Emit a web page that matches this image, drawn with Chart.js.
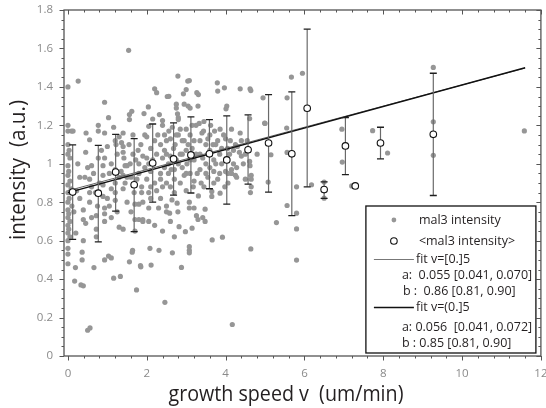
<!DOCTYPE html>
<html>
<head>
<meta charset="utf-8">
<script src="https://cdn.jsdelivr.net/npm/chart.js@4.4.1/dist/chart.umd.min.js"></script>
<style>
  html, body { margin: 0; padding: 0; background: #fff; overflow: hidden; }
  #wrap { width: 546px; height: 408px; position: relative; }
</style>
</head>
<body>
<div id="wrap"><canvas id="chart"></canvas></div>
<script>
// tick labels
const xTicks = [0, 2, 4, 6, 8, 10, 12];
const yTicks = [0, 0.2, 0.4, 0.6, 0.8, 1, 1.2, 1.4, 1.6, 1.8];

// single measurements [growth speed, intensity]
const mal3Points = [
  [0,1.40],[0,1.20],[0,1.17],[0.09,1.17],[0,1.10],[0.03,1.07],[0,1.05],[0.05,1.03],[0,0.99],[0.02,0.96],
  [0,0.94],[0.05,0.91],[0,0.89],[0.08,0.87],[0,0.85],[0.03,0.82],[0,0.80],[0.1,0.78],[0,0.76],[0.02,0.74],
  [0,0.72],[0.05,0.70],[0,0.68],[0.02,0.66],[0,0.64],[0.05,0.62],[0,0.60],[0,0.56],[0,0.53],[0,0.48],
  [0.17,0.39],[0.19,0.46],[0.26,1.43],
  [0.13,1.17],[0.22,0.86],[0.15,0.75],[0.2,0.64],[0.25,1.0],[0.3,0.93],[0.33,0.37],[0.39,0.365],[0.36,0.54],
  [0.36,0.50],[0.39,0.76],[0.39,0.71],[0.39,0.60],[0.43,0.93],[0.46,1.16],[0.45,1.06],[0.5,0.134],[0.56,0.146],
  [0.55,1.125],[0.55,0.92],[0.55,0.85],[0.55,0.80],[0.5,0.98],[0.6,0.99],[0.6,0.88],
  [0.65,0.95],[0.66,0.46],[0.72,0.73],[0.72,0.66],[0.72,0.62],[0.77,1.20],[0.77,1.17],[0.77,1.03],[0.8,0.90],
  [0.85,1.07],[0.89,0.99],[0.89,0.94],[0.89,0.89],[0.89,0.83],[0.93,1.32],[0.93,1.16],[0.93,1.03],[0.93,0.77],
  [0.93,0.74],[0.93,0.70],[0.93,0.50],[1.03,1.24],[1.03,0.52],[1.0,1.09],[1.05,0.78],[1.05,0.95],[1.1,0.51],
  [1.1,0.87],[1.1,1.0],
  [1.16,1.19],[1.16,0.405],[1.2,1.12],[1.22,1.10],[1.2,0.90],[1.2,0.85],[1.2,0.81],[1.25,1.05],[1.3,1.14],
  [1.3,0.67],[1.33,0.414],[1.36,1.11],[1.35,0.96],[1.4,1.16],[1.4,1.09],[1.4,1.06],[1.42,1.03],[1.4,0.94],
  [1.4,0.87],[1.4,0.66],[1.45,0.99],[1.5,0.99],[1.5,0.93],[1.5,0.80],[1.54,1.59],[1.56,1.256],[1.56,1.23],
  [1.56,0.49],[1.58,1.0],
  [1.62,1.273],[1.63,0.54],[1.65,1.15],[1.64,0.55],[1.65,1.05],[1.7,0.79],[1.7,0.71],[1.7,0.65],[1.72,1.02],
  [1.74,0.344],[1.78,1.07],[1.8,1.0],[1.8,0.95],[1.8,0.79],[1.8,0.71],[1.85,0.464],[1.84,0.47],[1.87,0.88],
  [1.87,0.85],[1.9,0.71],[1.9,0.70],[1.9,1.04],[1.93,1.261],[1.95,1.15],[2.0,1.14],[2.0,1.03],[2.0,0.92],
  [2.04,1.296],[2.05,1.195],[2.05,1.0],[2.05,0.85],[2.05,0.77],[2.05,0.70],[2.08,0.56],
  [2.1,0.88],[2.1,0.82],[2.11,0.473],[2.1,1.08],[2.15,1.233],[2.2,1.39],[2.2,1.12],[2.25,1.37],[2.25,1.05],
  [2.3,0.77],[2.31,0.55],[2.32,1.256],[2.35,0.95],[2.35,0.92],[2.35,0.82],[2.35,1.1],[2.4,1.225],[2.4,1.2],
  [2.4,1.03],[2.45,0.98],[2.46,0.279],[2.45,1.07],[2.5,0.78],[2.5,0.75],[2.5,0.90],[2.52,1.35],[2.5,1.12],
  [2.55,1.0],[2.55,0.95],[2.56,1.351],[2.56,1.17],[2.58,0.743],
  [2.6,1.04],[2.6,0.88],[2.64,0.812],[2.65,0.537],[2.65,1.19],[2.7,0.97],[2.7,0.92],[2.72,1.1],[2.75,1.31],
  [2.75,1.29],[2.75,1.02],[2.77,0.795],[2.78,1.26],[2.79,1.456],[2.79,0.75],[2.8,1.24],[2.8,1.23],[2.8,1.15],
  [2.82,0.673],[2.85,1.05],[2.85,0.9],[2.88,0.461],[2.9,1.12],[2.9,0.98],[2.93,1.364],[2.95,1.31],[2.95,0.94],
  [2.98,0.647],[3.0,1.386],[3.0,1.18],[3.0,1.07],[3.0,0.86],[3.02,1.0],[3.05,1.30],[3.04,1.43],
  [3.08,1.433],[3.08,0.80],[3.08,0.77],[3.08,0.569],[3.08,0.55],[3.08,0.537],[3.1,1.29],[3.1,1.15],[3.1,0.95],
  [3.15,1.08],[3.15,0.665],[3.2,0.77],[3.2,1.02],[3.2,0.91],[3.25,1.2],[3.26,0.73],[3.27,1.37],[3.3,1.3],
  [3.3,0.71],[3.31,1.36],[3.31,0.833],[3.33,1.21],[3.35,1.05],[3.35,0.97],[3.4,1.16],[3.42,0.72],[3.44,1.17],
  [3.45,0.88],[3.48,0.764],[3.48,0.70],[3.5,1.1],[3.5,1.0],[3.55,0.93],[3.55,1.13],
  [3.6,1.15],[3.6,1.07],[3.65,0.856],[3.65,0.83],[3.66,0.604],[3.7,1.02],[3.7,0.96],[3.72,1.17],[3.75,1.1],
  [3.79,1.421],[3.8,1.378],[3.8,0.92],[3.86,1.18],[3.86,0.847],[3.85,1.05],[3.92,0.618],[3.9,1.0],[3.97,1.395],
  [3.98,0.88],[4.0,1.13],[4.0,0.96],[4.01,1.286],[4.03,1.30],[4.05,1.08],[4.06,0.90],[4.06,0.95],
  [4.15,1.18],[4.15,0.97],[4.15,0.95],[4.17,0.164],[4.2,1.07],[4.25,1.1],[4.28,0.98],[4.28,0.93],[4.3,1.09],
  [4.37,1.16],[4.37,1.39],[4.4,1.04],[4.45,1.0],[4.5,0.92],[4.55,1.12],[4.61,1.235],[4.61,1.012],[4.62,1.39],
  [4.62,0.99],[4.64,1.381],[4.64,0.557],[4.65,0.94],[4.65,0.92],[4.65,0.88],[4.63,0.85],
  [4.8,1.05],[4.95,1.343],[4.99,1.212],[5.0,1.21],[5.08,0.905],[5.15,1.047],[5.29,0.694],[5.55,1.186],
  [5.56,1.343],[5.56,1.059],[5.56,0.783],[5.67,1.451],[5.8,0.88],[5.8,0.743],[5.8,0.661],[5.8,0.499],
  [5.95,1.471],[6.18,0.891],
  [6.5,0.905],[6.5,0.821],[6.95,1.18],[6.96,1.009],[7.2,0.885],[7.73,1.172],[8.11,1.056],[9.27,1.501],
  [9.27,1.218],[9.27,1.044],[11.58,1.171],
  [1.85,1.1],[1.95,0.98],[2.1,0.96],[2.15,1.02],[2.2,0.9],[2.25,0.86],[2.28,1.15],[2.4,0.88],[2.45,1.15],
  [2.5,1.05],[2.6,1.13],[2.62,0.97],[2.68,1.08],[2.7,0.85],[2.75,1.15],[2.8,1.0],[2.85,1.18],[2.9,1.05],
  [2.95,1.12],[3.0,0.95],[3.05,1.1],[3.1,1.02],[3.15,1.2],[3.18,0.88],[3.2,1.12],[3.25,1.05],[3.28,0.95],
  [3.35,1.12],[3.38,0.9],[3.42,1.03],[3.45,1.22],[3.5,0.95],[3.55,1.05],[3.6,0.98],[3.62,1.2],[3.68,1.1],
  [3.7,0.9],[3.75,1.0],[3.8,1.12],[3.85,0.95],[3.9,1.08],[3.95,1.15],[4.0,1.02],[4.1,1.05],[4.12,1.12],
  [4.2,1.0],[4.25,0.94],[4.35,1.06],[4.4,1.12],[4.5,1.05],[1.2,0.97],[1.3,0.93],[1.45,0.9],[1.55,1.1],
  [1.6,0.93],[1.68,0.85],[1.75,0.92],[0.7,0.85],[0.75,0.78],[1.0,0.82],[1.1,0.72],[0.3,0.82],[0.45,0.69],
  [0.6,0.72],[1.25,0.75],[1.6,0.75],[1.9,0.8],[2.2,0.68],[2.4,0.65],[2.6,0.7],[2.7,0.62]
];

// binned means with error bars
const meanV   = [0.12, 0.77, 1.21, 1.68, 2.15, 2.68, 3.12, 3.59, 4.03, 4.57, 5.09, 5.68, 6.07, 6.5, 7.04, 7.29, 7.93, 9.27];
const meanI   = [0.853, 0.847, 0.957, 0.891, 1.004, 1.025, 1.046, 1.052, 1.02, 1.073, 1.108, 1.052, 1.289, 0.866, 1.093, 0.885, 1.108, 1.153];
const errHigh = [1.098, 1.096, 1.153, 1.131, 1.207, 1.213, 1.244, 1.23, 1.249, 1.254, 1.36, 1.374, 1.70, 0.906, 1.24, null, 1.19, 1.471];
const errLow  = [0.607, 0.594, 0.754, 0.647, 0.80, 0.837, 0.848, 0.87, 0.79, 0.894, 0.853, 0.73, 0.88, 0.82, 0.944, null, 1.026, 0.835];

// linear fits  y = a*v + b
const fitA = [0.055, 0.056];
const fitB = [0.86, 0.85];
const fitRange = [0, 11.6];

const FONT = '"Open Sans", "Noto Sans", sans-serif';

const errorBars = {
  id: 'errorBars',
  beforeDatasetDraw(chart, args) {
    if (args.index !== 0) return;
    const { ctx, scales: { x, y } } = chart;
    ctx.save();
    meanV.forEach((v, i) => {
      if (errHigh[i] == null) return;
      const px = x.getPixelForValue(v);
      const t = y.getPixelForValue(errHigh[i]);
      const b = y.getPixelForValue(errLow[i]);
      ctx.strokeStyle = '#6a6a6a';
      ctx.lineWidth = 1.2;
      ctx.beginPath();
      ctx.moveTo(px, t); ctx.lineTo(px, b);
      ctx.stroke();
      ctx.strokeStyle = '#1e1e1e';
      ctx.lineWidth = 1.3;
      ctx.beginPath();
      ctx.moveTo(px - 3.5, t); ctx.lineTo(px + 3.5, t);
      ctx.moveTo(px - 3.5, b); ctx.lineTo(px + 3.5, b);
      ctx.stroke();
    });
    ctx.restore();
  }
};

const frame = {
  id: 'frame',
  afterDatasetsDraw(chart) {
    const { ctx, chartArea: a, scales: { x, y } } = chart;
    ctx.save();
    ctx.strokeStyle = '#555';
    ctx.lineWidth = 1.3;
    ctx.strokeRect(a.left, a.top, a.right - a.left, a.bottom - a.top);
    ctx.lineWidth = 1;
    ctx.beginPath();
    for (let k = 0; k <= 30; k++) {
      const v = k * 0.4;
      const px = Math.round(x.getPixelForValue(v)) + 0.5;
      const len = k % 5 === 0 ? 4.5 : 2.5;
      ctx.moveTo(px, a.bottom); ctx.lineTo(px, a.bottom + len);
      ctx.moveTo(px, a.top); ctx.lineTo(px, a.top + len);
    }
    for (let k = 0; k <= 36; k++) {
      const v = k * 0.05;
      const py = Math.round(y.getPixelForValue(v)) + 0.5;
      const len = k % 4 === 0 ? 4.5 : 2.5;
      ctx.moveTo(a.left, py); ctx.lineTo(a.left - len, py);
      ctx.moveTo(a.right, py); ctx.lineTo(a.right - len, py);
    }
    ctx.stroke();
    ctx.restore();
  }
};

function fitText(ctx, text, width) {
  const w = ctx.measureText(text).width;
  ctx.save();
  ctx.scale(width / w, 1);
  ctx.fillText(text, 0, 0);
  ctx.restore();
}

const titles = {
  id: 'titles',
  afterDraw(chart) {
    const { ctx, chartArea: a } = chart;
    ctx.save();
    ctx.fillStyle = '#231f20';
    ctx.font = '22px ' + FONT;
    ctx.textAlign = 'center';
    ctx.textBaseline = 'alphabetic';
    ctx.save();
    ctx.translate((a.left + a.right) / 2 - 16.5, a.bottom + 44.5);
    fitText(ctx, 'growth speed v  (um/min)', 235);
    ctx.restore();
    ctx.save();
    ctx.translate(25, (a.top + a.bottom) / 2 - 13);
    ctx.rotate(-Math.PI / 2);
    fitText(ctx, 'intensity  (a.u.)', 140);
    ctx.restore();
    ctx.restore();
  }
};

const legendBox = {
  id: 'legendBox',
  afterDraw(chart) {
    const { ctx, chartArea: a } = chart;
    const right = a.right - 5, bottom = a.bottom - 3;
    const L = right - 170, T = bottom - 147;
    ctx.save();
    ctx.fillStyle = '#fff';
    ctx.fillRect(L, T, 170, 147);
    ctx.strokeStyle = '#111';
    ctx.lineWidth = 1.3;
    ctx.strokeRect(L, T, 170, 147);

    ctx.fillStyle = '#969696';
    ctx.beginPath(); ctx.arc(L + 28, T + 14, 2.4, 0, Math.PI * 2); ctx.fill();
    ctx.fillStyle = '#fff';
    ctx.strokeStyle = '#111';
    ctx.lineWidth = 1.1;
    ctx.beginPath(); ctx.arc(L + 28, T + 35, 3.3, 0, Math.PI * 2); ctx.fill(); ctx.stroke();

    ctx.strokeStyle = '#777';
    ctx.lineWidth = 1;
    ctx.beginPath(); ctx.moveTo(L + 8, T + 53.5); ctx.lineTo(L + 48, T + 53.5); ctx.stroke();
    ctx.strokeStyle = '#111';
    ctx.lineWidth = 1.4;
    ctx.beginPath(); ctx.moveTo(L + 8, T + 101.5); ctx.lineTo(L + 48, T + 101.5); ctx.stroke();

    ctx.fillStyle = '#231f20';
    ctx.font = '12.5px ' + FONT;
    ctx.textAlign = 'left';
    ctx.textBaseline = 'middle';
    ctx.fillText('mal3 intensity', L + 53, T + 14);
    ctx.fillText('<mal3 intensity>', L + 53, T + 35);
    ctx.fillText('fit v=[0.]5', L + 50, T + 53);
    ctx.fillText('a:  ' + fitA[0].toFixed(3) + ' [0.041, 0.070]', L + 36, T + 69);
    ctx.fillText('b :  ' + fitB[0].toFixed(2) + ' [0.81, 0.90]', L + 37, T + 85);
    ctx.fillText('fit v=(0.]5', L + 50, T + 101);
    ctx.fillText('a: ' + fitA[1].toFixed(3) + '  [0.041, 0.072]', L + 36, T + 121);
    ctx.fillText('b : ' + fitB[1].toFixed(2) + ' [0.81, 0.90]', L + 36, T + 137);
    ctx.restore();
  }
};

const fitLine = (k) => fitRange.map(v => ({ x: v, y: fitA[k] * v + fitB[k] }));

new Chart(document.getElementById('chart'), {
  type: 'scatter',
  data: {
    datasets: [
      {
        label: '<mal3 intensity>',
        data: meanV.map((v, i) => ({ x: v, y: meanI[i] })),
        pointRadius: 3.3,
        pointBackgroundColor: '#fff',
        pointBorderColor: '#111',
        pointBorderWidth: 1.1
      },
      {
        label: 'fit v=(0.]5',
        data: fitLine(1),
        showLine: true,
        borderColor: '#111',
        borderWidth: 1.4,
        pointRadius: 0
      },
      {
        label: 'fit v=[0.]5',
        data: fitLine(0),
        showLine: true,
        borderColor: '#666',
        borderWidth: 1,
        pointRadius: 0
      },
      {
        label: 'mal3 intensity',
        data: mal3Points.map(p => ({ x: p[0], y: p[1] })),
        pointRadius: 2.6,
        pointBackgroundColor: '#969696',
        pointBorderWidth: 0
      }
    ]
  },
  options: {
    responsive: true,
    maintainAspectRatio: false,
    animation: false,
    devicePixelRatio: 1,
    events: [],
    layout: { padding: { top: 10, right: 2, left: 0, bottom: 0 } },
    plugins: { legend: { display: false }, tooltip: { enabled: false } },
    scales: {
      x: {
        type: 'linear',
        min: -0.1,
        max: 12,
        grid: { display: false, drawTicks: false },
        border: { display: false },
        ticks: {
          color: '#8a8a8a',
          font: { family: FONT, size: 11.5 },
          padding: 11,
          maxRotation: 0,
          autoSkip: false,
          callback: v => String(v)
        },
        afterBuildTicks: s => { s.ticks = xTicks.map(v => ({ value: v })); },
        afterFit: s => { s.paddingLeft = 0; s.paddingRight = 0; s.height = 52; }
      },
      y: {
        type: 'linear',
        min: 0,
        max: 1.8,
        grid: { display: false, drawTicks: false },
        border: { display: false },
        ticks: {
          color: '#8a8a8a',
          font: { family: FONT, size: 11.5 },
          padding: 11,
          autoSkip: false,
          callback: v => String(v)
        },
        afterBuildTicks: s => { s.ticks = yTicks.map(v => ({ value: v })); },
        afterFit: s => { s.paddingTop = 0; s.paddingBottom = 0; s.width = 64; }
      }
    }
  },
  plugins: [errorBars, frame, titles, legendBox]
});
</script>
</body>
</html>
